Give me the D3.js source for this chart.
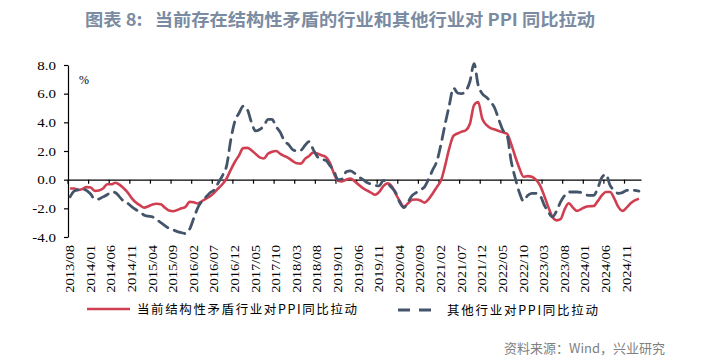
<!DOCTYPE html>
<html>
<head>
<meta charset="utf-8">
<script src="https://cdn.jsdelivr.net/npm/d3@7"></script>
<style>
  html, body { margin: 0; padding: 0; background: #fff; }
  svg { display: block; }
</style>
</head>
<body>
<svg id="chart" width="703" height="363"></svg>
<script>
// ---------- data ----------
const startYear = 2013, startMonth = 8, monthCount = 139; // 2013/08 .. 2025/02

const tickLabels = ["2013/08","2014/01","2014/06","2014/11","2015/04","2015/09","2016/02","2016/07",
  "2016/12","2017/05","2017/10","2018/03","2018/08","2019/01","2019/06","2019/11","2020/04","2020/09",
  "2021/02","2021/07","2021/12","2022/05","2022/10","2023/03","2023/08","2024/01","2024/06","2024/11"];

const yTicks = [-4, -2, 0, 2, 4, 6, 8];

const seriesNames = ["当前结构性矛盾行业对PPI同比拉动", "其他行业对PPI同比拉动"];

const structural = [
  -0.62,-0.62,-0.72,-0.65,-0.52,-0.55,-0.78,-0.75,-0.62,-0.32,
  -0.32,-0.22,-0.35,-0.60,-0.90,-1.30,-1.60,-1.80,-1.95,-1.85,
  -1.73,-1.68,-1.72,-1.95,-2.15,-2.20,-2.12,-2.00,-1.90,-1.55,
  -1.58,-1.66,-1.50,-1.32,-1.15,-0.90,-0.60,-0.30,0.10,0.70,
  1.25,1.70,2.20,2.22,2.05,1.80,1.55,1.48,1.80,1.95,
  2.00,1.80,1.65,1.50,1.30,1.14,1.12,1.45,1.65,1.90,
  1.82,1.70,1.60,1.20,0.44,-0.07,-0.12,0.00,0.08,-0.10,
  -0.35,-0.58,-0.75,-0.90,-1.05,-0.85,-0.45,-0.26,-0.44,-1.00,
  -1.50,-1.88,-1.65,-1.40,-1.38,-1.45,-1.60,-1.35,-0.95,-0.50,
  -0.05,1.00,2.20,3.05,3.22,3.35,3.45,3.90,5.20,5.42,
  4.25,3.82,3.60,3.50,3.40,3.30,3.20,2.50,1.60,0.80,
  0.20,0.25,0.20,0.00,-0.40,-1.10,-1.90,-2.60,-2.84,-2.75,
  -2.05,-1.65,-1.95,-2.18,-2.05,-1.90,-1.85,-1.84,-1.50,-1.10,
  -0.86,-0.86,-1.30,-1.90,-2.18,-1.95,-1.65,-1.45,-1.33
];

const others = [
  -1.20,-0.80,-0.70,-0.68,-0.75,-1.00,-1.38,-1.35,-1.20,-1.05,
  -0.85,-0.90,-1.20,-1.50,-1.65,-1.90,-2.10,-2.25,-2.48,-2.55,
  -2.60,-2.78,-3.00,-3.20,-3.40,-3.50,-3.62,-3.70,-3.76,-3.45,
  -2.70,-1.95,-1.50,-1.20,-0.90,-0.70,-0.20,0.30,1.00,2.80,
  4.10,4.65,5.13,4.90,4.00,3.40,3.50,3.75,4.20,4.20,
  3.70,3.30,2.70,2.45,2.10,2.00,2.05,2.40,2.65,2.10,
  1.60,1.42,1.35,1.00,0.60,0.00,0.05,0.55,0.62,0.45,
  0.20,0.02,-0.20,-0.30,-0.40,-0.44,-0.05,-0.25,-0.55,-0.90,
  -1.60,-1.95,-1.55,-1.10,-0.90,-0.70,-0.50,0.05,0.70,1.30,
  2.50,3.90,5.20,6.40,6.05,6.00,6.20,6.85,8.10,6.60,
  6.00,5.75,5.45,5.00,4.20,3.45,3.10,1.30,0.10,-0.90,
  -1.50,-1.10,-0.95,-0.95,-1.10,-1.75,-2.25,-2.60,-2.20,-1.55,
  -1.10,-0.86,-0.86,-0.86,-0.90,-1.05,-1.10,-1.10,-0.60,0.15,
  0.37,-0.40,-0.75,-0.95,-0.90,-0.75,-0.72,-0.75,-0.80
];

// month categories
const months = [];
for (let k = 0; k < monthCount; k++) {
  const t = (startMonth - 1) + k;
  const yy = startYear + Math.floor(t / 12), mm = (t % 12) + 1;
  months.push(yy + "/" + String(mm).padStart(2, "0"));
}

// ---------- chart ----------
const svg = d3.select("#chart");
const RED = "#D03E51", BLUE = "#44546A";

const x = d3.scaleBand().domain(months).range([68, 641]).paddingInner(0).paddingOuter(0);
const y = d3.scaleLinear().domain([-4, 8]).range([237, 65]);
const cx = m => x(m) + x.bandwidth() / 2;

// title
svg.append("text")
  .attr("x", 85).attr("y", 26)
  .attr("font-family", "'Noto Sans CJK SC', 'Noto Sans', sans-serif")
  .attr("font-size", 17.5).attr("font-weight", 700)
  .attr("fill", "#7B8BA1")
  .attr("textLength", 510).attr("lengthAdjust", "spacingAndGlyphs")
  .text("图表 8:\u00A0\u00A0\u00A0当前存在结构性矛盾的行业和其他行业对 PPI 同比拉动");

// y axis
const yAxis = svg.append("g")
  .attr("transform", "translate(68,0)")
  .call(d3.axisLeft(y).tickValues(yTicks).tickSize(4).tickSizeOuter(0).tickFormat(d => d.toFixed(1)));
yAxis.select(".domain").attr("stroke", "#000").attr("stroke-width", 1.2);
yAxis.selectAll(".tick line").attr("stroke", "#000").attr("stroke-width", 1.2);
yAxis.selectAll(".tick text")
  .attr("font-family", "'Liberation Serif', 'Times New Roman', serif")
  .attr("font-size", 12.5).attr("fill", "#000")
  .attr("text-anchor", "end")
  .attr("x", 0).attr("dy", "0.34em")
  .attr("transform", "translate(-12,0) scale(1.2,1)");

// % unit
svg.append("text")
  .attr("x", 84).attr("y", 84)
  .attr("text-anchor", "middle")
  .attr("font-family", "'Liberation Serif', serif")
  .attr("font-size", 12).attr("fill", "#000")
  .text("%");

// x axis at zero
const tickMonths = months.filter((m, i) => i % 5 === 0);
const xAxis = svg.append("g")
  .attr("transform", `translate(0,${y(0)})`)
  .call(d3.axisBottom(x).tickValues(tickMonths).tickSize(4).tickSizeOuter(0).tickFormat(""));
xAxis.select(".domain").attr("stroke", "#000").attr("stroke-width", 1.2);
xAxis.selectAll(".tick").attr("transform", d => `translate(${x(d)},0)`);
xAxis.selectAll(".tick line").attr("stroke", "#000").attr("stroke-width", 1.2);

// x labels (rotated, at the bottom)
svg.append("g").selectAll("text")
  .data(tickLabels)
  .join("text")
  .attr("transform", d => `translate(${cx(d) + 4},245) rotate(-90) scale(1.27,1)`)
  .attr("text-anchor", "end")
  .attr("font-family", "'Liberation Serif', 'Times New Roman', serif")
  .attr("font-size", 11.5).attr("fill", "#000")
  .text(d => d);

// lines
const line = d3.line().x((d, i) => cx(months[i])).y(d => y(d)).curve(d3.curveMonotoneX);

svg.append("path")
  .datum(structural)
  .attr("d", line)
  .attr("fill", "none").attr("stroke", RED).attr("stroke-width", 2.6)
  .attr("stroke-linejoin", "round");

svg.append("path")
  .datum(others)
  .attr("d", line)
  .attr("fill", "none").attr("stroke", BLUE).attr("stroke-width", 2.8)
  .attr("stroke-dasharray", "11,7")
  .attr("stroke-linecap", "round");

// legend
const lg = svg.append("g");
lg.append("line").attr("x1", 87).attr("x2", 130).attr("y1", 309).attr("y2", 309)
  .attr("stroke", RED).attr("stroke-width", 2.6);
lg.append("text").attr("x", 137).attr("y", 313.5)
  .attr("font-family", "'Noto Sans CJK SC', sans-serif").attr("font-size", 12.5).attr("fill", "#000")
  .attr("textLength", 220).attr("lengthAdjust", "spacing")
  .text(seriesNames[0]);
lg.append("line").attr("x1", 398).attr("x2", 432).attr("y1", 310).attr("y2", 310)
  .attr("stroke", BLUE).attr("stroke-width", 2.8).attr("stroke-dasharray", "12,9");
lg.append("text").attr("x", 447).attr("y", 314.5)
  .attr("font-family", "'Noto Sans CJK SC', sans-serif").attr("font-size", 12.5).attr("fill", "#000")
  .attr("textLength", 151).attr("lengthAdjust", "spacing")
  .text(seriesNames[1]);

// source
svg.append("text")
  .attr("x", 665).attr("y", 353)
  .attr("text-anchor", "end")
  .attr("font-family", "'Noto Sans CJK SC', sans-serif").attr("font-size", 13).attr("fill", "#7F7F7F")
  .text("资料来源：Wind，兴业研究");
</script>
</body>
</html>
